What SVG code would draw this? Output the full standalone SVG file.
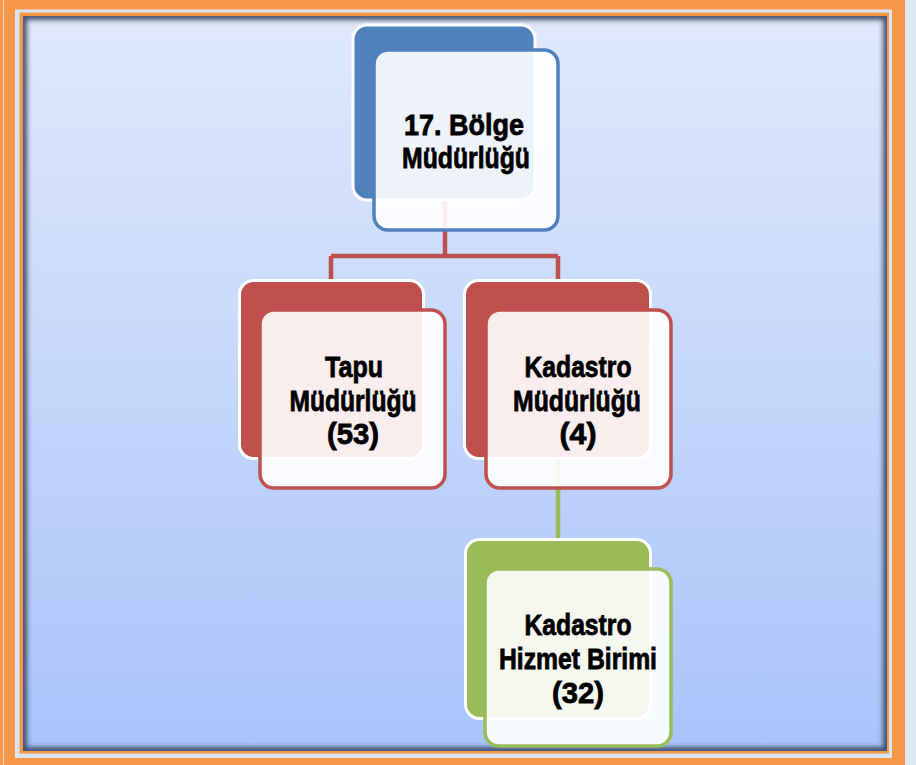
<svg xmlns="http://www.w3.org/2000/svg" width="916" height="765" viewBox="0 0 916 765">
<defs>
<linearGradient id="panelGrad" x1="0" y1="0" x2="0" y2="1">
<stop offset="0" stop-color="#e0e9fc"/>
<stop offset="1" stop-color="#a8c4fa"/>
</linearGradient>
<clipPath id="panelClip"><rect x="23" y="16" width="864" height="735"/></clipPath>
<filter id="blur" x="-5%" y="-5%" width="110%" height="110%"><feGaussianBlur stdDeviation="2.5"/></filter>
</defs>
<style>
.lbl{font-family:"Liberation Sans",Arial,sans-serif;font-weight:bold;font-size:30px;fill:#000;stroke:#000;stroke-width:0.8;text-anchor:middle}
.back{stroke:#ffffff;stroke-width:3}
.front{fill:#ffffff;fill-opacity:0.9;stroke-width:3.5}
.conn{fill:none;stroke-width:4.5}
</style>
<!-- frame -->
<rect x="0" y="0" width="916" height="765" fill="#dce9f6"/>
<rect x="0" y="0" width="905" height="765" fill="#f79646"/>
<rect x="3.3" y="0" width="0.8" height="765" fill="#e8eef6"/>
<rect x="15" y="9.5" width="877" height="748.5" fill="#d8e6f4"/>
<rect x="19.5" y="12.5" width="869.5" height="741" fill="#f79646"/>
<rect x="23" y="16" width="864" height="735" fill="url(#panelGrad)"/>
<g clip-path="url(#panelClip)">
<rect x="23" y="16" width="864" height="735" fill="none" stroke="#34435e" stroke-width="8" filter="url(#blur)" opacity="0.9"/>
</g>
<!-- connectors -->
<g id="connectors">
<path class="conn" stroke="#c0504d" d="M445 198 V256 M331 256 H558 M331 256 V282 M558 256 V282"/>
<path class="conn" stroke="#9bbb59" d="M558 458 V541"/>
</g>
<g id="node-bolge">
<rect class="back" x="353" y="25" width="182" height="175" rx="14" fill="#4f81bd"/>
<rect class="front" x="374" y="50" width="184" height="180" rx="14" stroke="#4f81bd"/>
<text class="lbl" x="464" y="135" textLength="120" lengthAdjust="spacingAndGlyphs">17. Bölge</text>
<text class="lbl" x="466" y="168" textLength="128" lengthAdjust="spacingAndGlyphs">Müdürlüğü</text>
</g>
<g id="node-tapu">
<rect class="back" x="239.5" y="280.5" width="184" height="178" rx="14" fill="#c0504d"/>
<rect class="front" x="260" y="310" width="185" height="178" rx="14" stroke="#c0504d"/>
<text class="lbl" x="354" y="377" textLength="58" lengthAdjust="spacingAndGlyphs">Tapu</text>
<text class="lbl" x="353" y="411" textLength="127" lengthAdjust="spacingAndGlyphs">Müdürlüğü</text>
<text class="lbl" x="353" y="444" textLength="52" lengthAdjust="spacingAndGlyphs">(53)</text>
</g>
<g id="node-kadastro">
<rect class="back" x="464.5" y="280.5" width="186" height="178" rx="14" fill="#c0504d"/>
<rect class="front" x="486" y="310" width="185" height="178" rx="14" stroke="#c0504d"/>
<text class="lbl" x="578" y="377" textLength="107" lengthAdjust="spacingAndGlyphs">Kadastro</text>
<text class="lbl" x="577" y="411" textLength="128" lengthAdjust="spacingAndGlyphs">Müdürlüğü</text>
<text class="lbl" x="578" y="444" textLength="37" lengthAdjust="spacingAndGlyphs">(4)</text>
</g>
<g id="node-hizmet">
<rect class="back" x="465.5" y="539.5" width="185" height="179" rx="14" fill="#9bbb59"/>
<rect class="front" x="485" y="569" width="186" height="177" rx="14" stroke="#9bbb59"/>
<text class="lbl" x="578" y="635" textLength="107" lengthAdjust="spacingAndGlyphs">Kadastro</text>
<text class="lbl" x="578" y="669" textLength="158" lengthAdjust="spacingAndGlyphs">Hizmet Birimi</text>
<text class="lbl" x="578" y="703" textLength="52" lengthAdjust="spacingAndGlyphs">(32)</text>
</g>
</svg>
